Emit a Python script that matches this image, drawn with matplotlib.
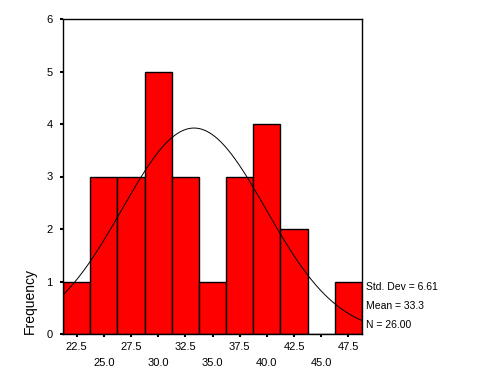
import numpy as np
import matplotlib.pyplot as plt

# histogram data
bin_centers = [22.5, 25.0, 27.5, 30.0, 32.5, 35.0, 37.5, 40.0, 42.5, 45.0, 47.5]
counts = [1, 3, 3, 5, 3, 1, 3, 4, 2, 0, 1]
bin_width = 2.5
std_dev = 6.61
mean = 33.3
n_total = 26

upper_labels = ['22.5', '27.5', '32.5', '37.5', '42.5', '47.5']
lower_labels = ['25.0', '30.0', '35.0', '40.0', '45.0']

plt.rcParams['font.family'] = ['Liberation Sans', 'DejaVu Sans']

fig = plt.figure(figsize=(4.8, 3.92), dpi=100)
ax = fig.add_axes([63/480, 58/392, 299/480, 315/392])

ax.bar(bin_centers, counts, width=bin_width, color='#ff0000',
       edgecolor='black', linewidth=1.0)

xmin = bin_centers[0] - bin_width/2
xmax = bin_centers[-1] + bin_width/2
xs = np.linspace(xmin, xmax, 300)
scale = n_total * bin_width / (std_dev * np.sqrt(2*np.pi))
ax.plot(xs, scale*np.exp(-0.5*((xs-mean)/std_dev)**2), color='black', lw=0.7)

ax.set_xlim(xmin, xmax)
ax.set_ylim(0, 6)
ax.set_yticks(range(7))

ax.set_xticks(bin_centers[0::2])
ax.set_xticklabels(upper_labels)
ax.set_xticks(bin_centers[1::2], minor=True)
ax.set_xticklabels(lower_labels, minor=True)

ax.tick_params(axis='both', which='both', direction='out', length=2.5,
               width=1.5, labelsize=8, colors='black')
ax.tick_params(axis='x', which='major', pad=3)
ax.tick_params(axis='x', which='minor', pad=15)
ax.tick_params(axis='y', pad=5)

for s in ax.spines.values():
    s.set_linewidth(1.0)

fig.text(30/480, 1 - 334/392, 'Frequency', rotation=90, fontsize=10,
         ha='center', va='bottom')

fig.text(366/480, 1 - 287/392, 'Std. Dev = %.2f' % std_dev, fontsize=7.5,
         va='center', ha='left')
fig.text(366/480, 1 - 306/392, 'Mean = %.1f' % mean, fontsize=7.5,
         va='center', ha='left')
fig.text(366/480, 1 - 325/392, 'N = %.2f' % n_total, fontsize=7.5,
         va='center', ha='left')

fig.savefig('out.png', dpi=100)
